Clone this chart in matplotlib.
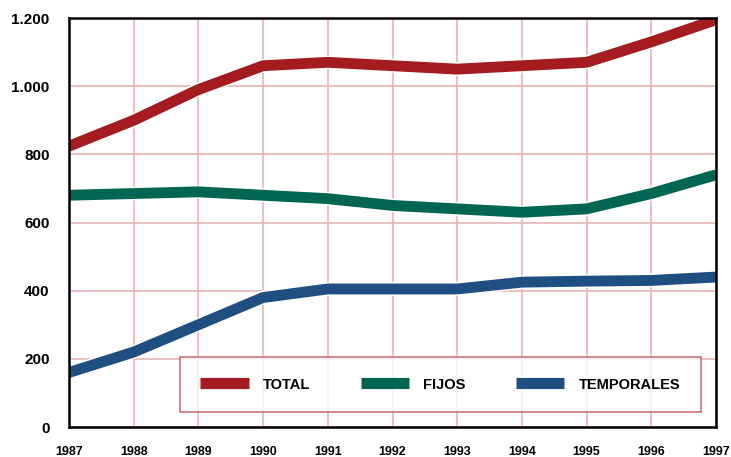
import matplotlib.pyplot as plt
import matplotlib.patheffects as pe
from matplotlib.ticker import FuncFormatter

years = [1987, 1988, 1989, 1990, 1991, 1992, 1993, 1994, 1995, 1996, 1997]
total = [824, 900, 990, 1060, 1070, 1060, 1050, 1060, 1070, 1130, 1195]
fijos = [680, 685, 690, 680, 670, 650, 640, 630, 640, 685, 740]
temporales = [160, 220, 300, 380, 405, 405, 405, 425, 428, 430, 440]

series = [("TOTAL", total, "#a51c20"),
          ("FIJOS", fijos, "#006652"),
          ("TEMPORALES", temporales, "#1f4e80")]

plt.rcParams["font.family"] = ["Liberation Sans", "DejaVu Sans"]
plt.rcParams["font.weight"] = "bold"

fig = plt.figure(figsize=(7.31, 4.57), dpi=100)
ax = fig.add_axes([0.0944, 0.0656, 0.8851, 0.895])

for name, vals, col in series:
    ax.plot(years, vals, color=col, lw=7.8, label=name, solid_capstyle="butt",
            path_effects=[pe.Stroke(linewidth=9.8, foreground="white"), pe.Normal()])

ax.set_xlim(1987, 1997)
ax.set_ylim(0, 1200)
ax.set_xticks(years)
ax.set_yticks(range(0, 1201, 200))
ax.yaxis.set_major_formatter(FuncFormatter(lambda v, p: f"{int(v):,}".replace(",", ".")))
ax.grid(True, color="#e8b4b4", lw=1.2)
ax.set_axisbelow(True)
ax.tick_params(length=0)
ax.tick_params(axis="x", pad=14, labelsize=9)
ax.tick_params(axis="y", pad=14, labelsize=11)
for s in ax.spines.values():
    s.set_color("black")
    s.set_linewidth(1.8)

leg = ax.legend(loc="lower left", bbox_to_anchor=(0.1716, 0.0367, 0.805, 0.154),
                mode="expand", ncol=3, frameon=True, fancybox=False,
                handlelength=3.3, handletextpad=1.0, borderaxespad=0,
                prop={"weight": "bold", "size": 10.5}, borderpad=1.4)
leg.get_frame().set_edgecolor("#c0505a")
leg.get_frame().set_linewidth(1.2)
for h in leg.get_lines():
    h.set_linewidth(8)
    h.set_path_effects([])

fig.savefig("out.png", dpi=100)
